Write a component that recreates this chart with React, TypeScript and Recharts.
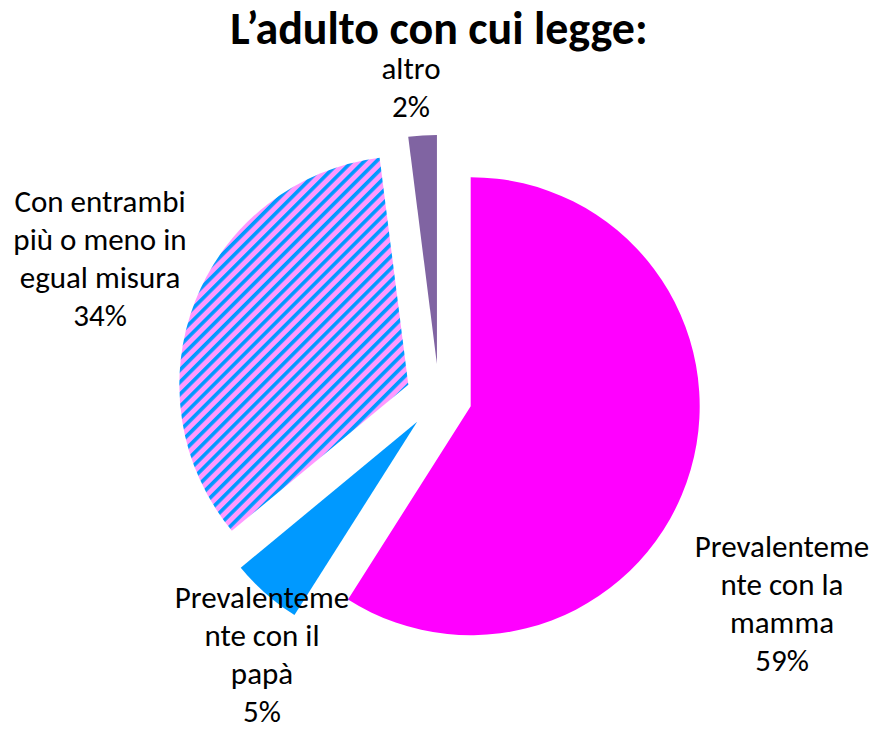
import React from 'react';
import { PieChart, Pie, Cell } from 'recharts';

const title = 'L’adulto con cui legge:';
const categories = [
  'Prevalentemente con la mamma',
  'Prevalentemente con il papà',
  'Con entrambi più o meno in egual misura',
  'altro',
];
const values = [59, 5, 34, 2];
const labelLines = [
  ['Prevalenteme', 'nte con la', 'mamma'],
  ['Prevalenteme', 'nte con il', 'papà'],
  ['Con entrambi', 'più o meno in', 'egual misura'],
  ['altro'],
];
const percentLabels = ['59%', '5%', '34%', '2%'];

const data = categories.map((name, i) => ({ name, value: values[i] }));

const W = 893;
const H = 736;
const FILLS = ['#FF00FF', '#0099FF', 'url(#stripes)', '#8064A2'];
const CENTER = { x: 439, y: 397 };
const EXPLODE = 33;
const RADIUS = 229;
const LABEL_ANCHORS = [
  { x: 782, y: 557 },
  { x: 262, y: 608 },
  { x: 100, y: 212 },
  { x: 411, y: 79 },
];
const LINE_H = 38;
const FONT = 'Carlito, Calibri, Lato, sans-serif';
const LABEL_SIZE = 31;
const STRIPE = 8.6;

const total = values.reduce((a, b) => a + b, 0);
const midAngles = values.map((v, i) => {
  const before = values.slice(0, i).reduce((a, b) => a + b, 0);
  return 90 - ((before + v / 2) / total) * 360;
});

const renderLabel = (target: number) => (props: any) => {
  if (props.index !== target) return null;
  const a = LABEL_ANCHORS[target];
  const lines = [...labelLines[target], percentLabels[target]];
  return (
    <text
      key={`lbl-${target}`}
      x={a.x}
      y={a.y}
      textAnchor="middle"
      fill="#000"
      fontFamily={FONT}
      fontSize={LABEL_SIZE}
    >
      {lines.map((l, k) => (
        <tspan key={k} x={a.x} y={a.y + k * LINE_H}>
          {l}
        </tspan>
      ))}
    </text>
  );
};

export default function App() {
  return (
    <div style={{ position: 'absolute', left: 0, top: 0, width: W, height: H, background: '#fff' }}>
      <svg width={0} height={0} style={{ position: 'absolute' }}>
        <defs>
          <pattern id="stripes" patternUnits="userSpaceOnUse" width={STRIPE} height={STRIPE} patternTransform="rotate(45)">
            <rect x={0} y={0} width={STRIPE} height={STRIPE} fill="#FF99FF" />
            <rect x={0} y={0} width={STRIPE * 0.42} height={STRIPE} fill="#0099FF" />
          </pattern>
        </defs>
      </svg>
      <svg width={W} height={70} style={{ position: 'absolute', left: 0, top: 0 }}>
        <text x={439} y={44} textAnchor="middle" fontFamily={FONT} fontWeight="bold" fontSize={46} fill="#000">
          {title}
        </text>
      </svg>
      <div style={{ position: 'absolute', left: 0, top: 0 }}>
        <PieChart width={W} height={H} margin={{ top: 0, right: 0, bottom: 0, left: 0 }}>
          {values.map((_, i) => {
            const rad = (midAngles[i] * Math.PI) / 180;
            const cx = CENTER.x + EXPLODE * Math.cos(rad);
            const cy = CENTER.y - EXPLODE * Math.sin(rad);
            return (
              <Pie
                key={i}
                data={data}
                dataKey="value"
                nameKey="name"
                cx={cx}
                cy={cy}
                outerRadius={RADIUS}
                innerRadius={0}
                startAngle={90}
                endAngle={-270}
                stroke="none"
                isAnimationActive={false}
                label={renderLabel(i)}
                labelLine={false}
              >
                {data.map((d, j) => (
                  <Cell key={j} fill={j === i ? FILLS[j] : 'none'} stroke="none" />
                ))}
              </Pie>
            );
          })}
        </PieChart>
      </div>
    </div>
  );
}
